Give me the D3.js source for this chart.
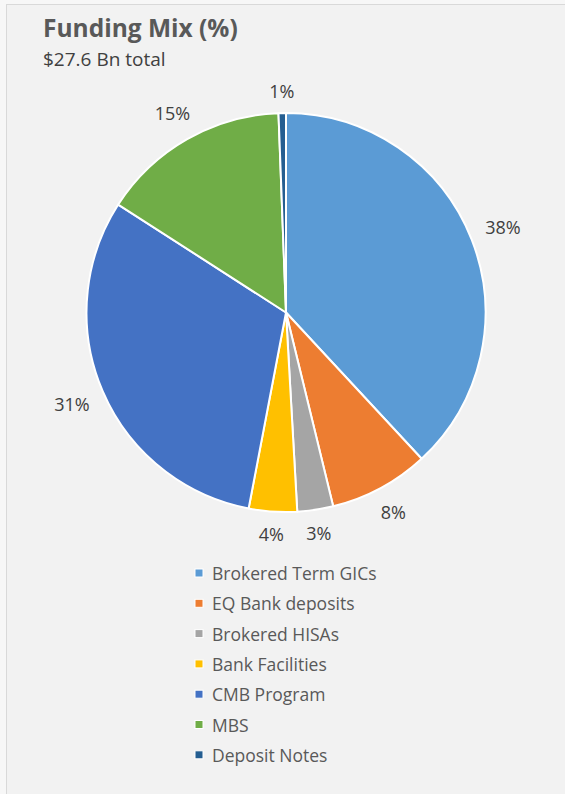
<!DOCTYPE html>
<html>
<head>
<meta charset="utf-8">
<script src="https://cdn.jsdelivr.net/npm/d3@7"></script>
<style>
  body { margin: 0; background: #f7f7f7; }
  svg { display: block; }
</style>
</head>
<body>
<svg width="565" height="794"></svg>
<script>
// funding mix data
const categories = ["Brokered Term GICs", "EQ Bank deposits", "Brokered HISAs",
                    "Bank Facilities", "CMB Program", "MBS", "Deposit Notes"];
const shares = [38.1, 8.1, 2.9, 3.9, 31.1, 15.3, 0.6];
const title = "Funding Mix (%)";
const subtitle = "$27.6 Bn total";

const colours = ["#5B9BD5", "#ED7D31", "#A5A5A5", "#FFC000", "#4472C4", "#70AD47", "#255E91"];

let width = 565;
let height = 794;
let cx = 286, cy = 312.5, radius = 199.5;

var svg = d3.select("svg");
const font = "'Open Sans', sans-serif";

// chart area frame
svg.append("rect")
    .attr("x", 6.5).attr("y", 4.5)
    .attr("width", 600).attr("height", 800)
    .attr("fill", "#f2f2f2")
    .attr("stroke", "#d9d9d9")
    .attr("stroke-width", 1);

svg.append("text")
    .attr("x", 43).attr("y", 37)
    .attr("font-family", font).attr("font-weight", "bold")
    .attr("font-size", 24.5).attr("fill", "#595959")
    .text(title);

svg.append("text")
    .attr("x", 43).attr("y", 66)
    .attr("font-family", font)
    .attr("font-size", 19).attr("fill", "#404040")
    .text(subtitle);

var colour = d3.scaleOrdinal().domain(categories).range(colours);

var pie = d3.pie().sort(null).value(function(d) { return d.value; });
var arcs = pie(categories.map(function(c, i) { return {name: c, value: shares[i]}; }));

var arc = d3.arc().innerRadius(0).outerRadius(radius);

var g = svg.append("g").attr("transform", "translate(" + cx + "," + cy + ")");

g.selectAll("path")
    .data(arcs)
    .enter().append("path")
    .attr("d", arc)
    .attr("fill", function(d) { return colour(d.data.name); })
    .attr("stroke", "#ffffff")
    .attr("stroke-width", 2)
    .attr("stroke-linejoin", "round");

// outside end labels, box pushed clear of the circle
var fmt = d3.format(".0f");
var labelSize = 18;
g.selectAll("text.lbl")
    .data(arcs)
    .enter().append("text")
    .attr("class", "lbl")
    .attr("font-family", font)
    .attr("font-size", labelSize)
    .attr("fill", "#404040")
    .attr("text-anchor", "middle")
    .attr("dominant-baseline", "central")
    .text(function(d) { return fmt(d.data.value) + "%"; })
    .each(function(d) {
        var a = (d.startAngle + d.endAngle) / 2;
        var ux = Math.sin(a), uy = -Math.cos(a);
        var w = this.getComputedTextLength(), h = labelSize * 0.9;
        var dist = radius + 14 + Math.abs(ux) * w / 2 + Math.abs(uy) * h / 2;
        d3.select(this).attr("x", ux * dist).attr("y", uy * dist);
    });

// legend
var legend = svg.append("g").attr("transform", "translate(195,573)");
var rows = legend.selectAll("g")
    .data(categories)
    .enter().append("g")
    .attr("transform", function(d, i) { return "translate(0," + (i * 30.3) + ")"; });

rows.append("rect")
    .attr("x", 0).attr("y", -4)
    .attr("width", 8).attr("height", 8)
    .attr("fill", function(d) { return colour(d); })
    .attr("stroke", "#ffffff")
    .attr("stroke-width", 1);

rows.append("text")
    .attr("x", 17).attr("y", 0)
    .attr("dominant-baseline", "central")
    .attr("font-family", font)
    .attr("font-size", 17.5)
    .attr("fill", "#595959")
    .text(function(d) { return d; });
</script>
</body>
</html>
